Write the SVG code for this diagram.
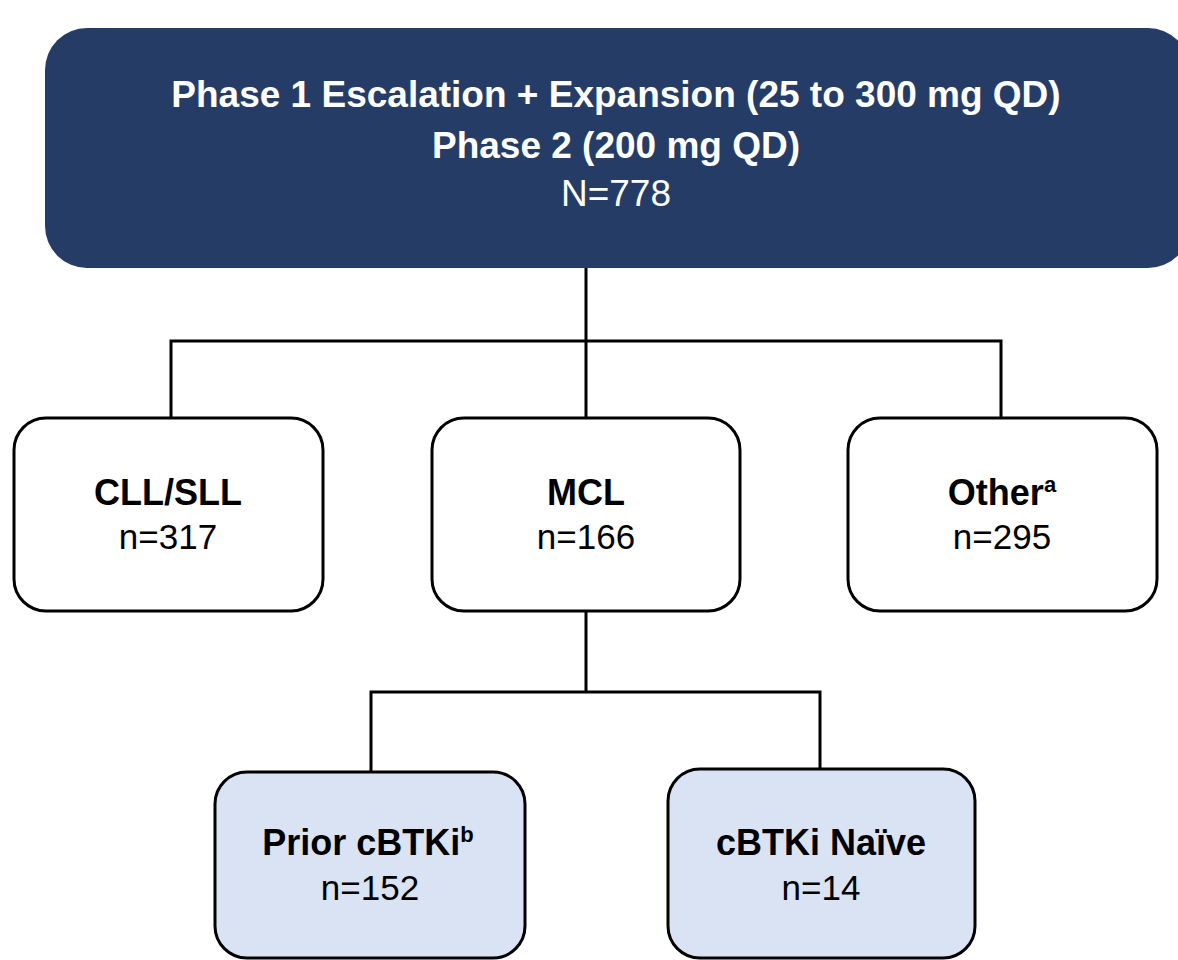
<svg xmlns="http://www.w3.org/2000/svg" width="1178" height="960" viewBox="0 0 1178 960">
<style>
text{font-family:"Liberation Sans",Arial,sans-serif;text-anchor:middle}
.top{fill:#253d66}
.tw{fill:#fff;font-size:37px}
.twb{fill:#fff;font-size:37px;font-weight:bold}
.box{fill:#fff;stroke:#000;stroke-width:3}
.lb{fill:#dae3f3;stroke:#000;stroke-width:3}
.t{fill:#000;font-size:35px}
.b{fill:#000;font-weight:bold;font-size:36px}
.c{fill:none;stroke:#000;stroke-width:3}
</style>
<rect width="1178" height="960" fill="#fff"/>
<g id="connectors">
<path class="c" d="M586 268V341M171 418V341H1001V418M586 341V418"/>
<path class="c" d="M586 611V692M371 772V692H820V768"/>
</g>
<g id="top">
<rect class="top" x="45" y="28" width="1145" height="240" rx="42"/>
<text class="twb" x="616" y="107">Phase 1 Escalation + Expansion (25 to 300 mg QD)</text>
<text class="twb" x="616" y="158">Phase 2 (200 mg QD)</text>
<text class="tw" x="616" y="206">N=778</text>
</g>
<g id="cll">
<rect class="box" x="14" y="418" width="309" height="193" rx="32"/>
<text class="b" x="168" y="505">CLL/SLL</text>
<text class="t" x="168" y="549">n=317</text>
</g>
<g id="mcl">
<rect class="box" x="432" y="418" width="308" height="193" rx="32"/>
<text class="b" x="586" y="505">MCL</text>
<text class="t" x="586" y="549">n=166</text>
</g>
<g id="other">
<rect class="box" x="848" y="418" width="309" height="193" rx="32"/>
<text class="b" x="1002" y="505">Other<tspan font-size="22" dy="-13">a</tspan></text>
<text class="t" x="1002" y="549">n=295</text>
</g>
<g id="prior">
<rect class="lb" x="215" y="772" width="310" height="186" rx="32"/>
<text class="b" x="368" y="855">Prior cBTKi<tspan font-size="22" dy="-13">b</tspan></text>
<text class="t" x="370" y="900">n=152</text>
</g>
<g id="naive">
<rect class="lb" x="668" y="769" width="307" height="189" rx="32"/>
<text class="b" x="821" y="855">cBTKi Naïve</text>
<text class="t" x="821" y="900">n=14</text>
</g>
</svg>
